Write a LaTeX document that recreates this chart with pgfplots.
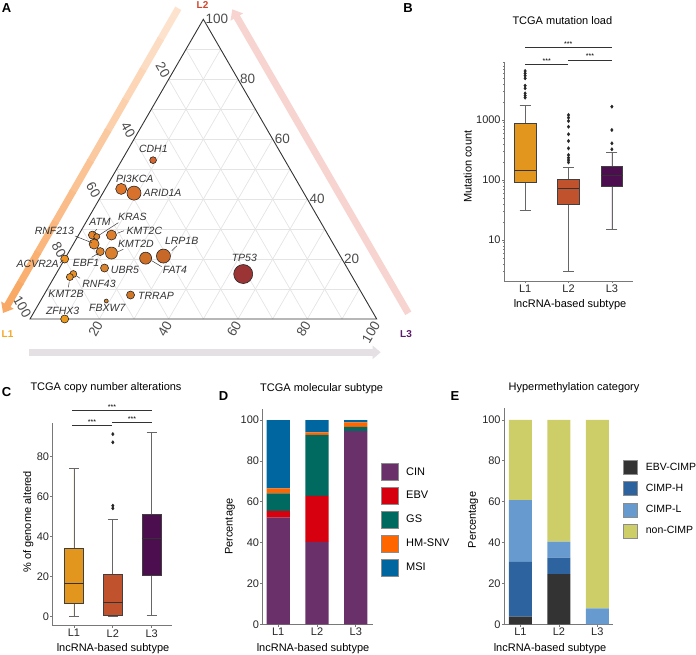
\documentclass[border=0pt]{standalone}
\usepackage{fontspec}
\setmainfont{Liberation Sans}
\usepackage{pgfplots}
\usepackage{pgfplotstable}
\pgfplotsset{compat=1.18}
\usepgfplotslibrary{statistics}
\usetikzlibrary{arrows.meta,calc}

\definecolor{cL1}{RGB}{226,150,30}
\definecolor{cL2}{RGB}{192,82,46}
\definecolor{cL3}{RGB}{76,14,78}
\definecolor{tL1}{RGB}{245,166,35}
\definecolor{tL2}{RGB}{210,69,42}
\definecolor{tL3}{RGB}{91,26,107}
\definecolor{cCIN}{RGB}{106,48,106}
\definecolor{cEBV}{RGB}{215,0,15}
\definecolor{cGS}{RGB}{0,106,96}
\definecolor{cHM}{RGB}{255,102,0}
\definecolor{cMSI}{RGB}{0,102,160}
\definecolor{cEC}{RGB}{51,51,51}
\definecolor{cCH}{RGB}{45,100,160}
\definecolor{cCL}{RGB}{103,155,208}
\definecolor{cNC}{RGB}{206,206,104}
\definecolor{axgray}{RGB}{120,120,120}
\definecolor{gridc}{RGB}{228,228,228}
\definecolor{arA}{RGB}{253,230,212}
\definecolor{arB}{RGB}{249,166,96}
\definecolor{arR}{RGB}{247,212,208}
\definecolor{arG}{RGB}{228,224,228}
% point colours
\definecolor{gCDH1}{RGB}{213,102,45}
\definecolor{gPI3KCA}{RGB}{223,117,41}
\definecolor{gARID1A}{RGB}{216,113,44}
\definecolor{gATM}{RGB}{229,133,40}
\definecolor{gKRAS}{RGB}{227,132,41}
\definecolor{gKMT2C}{RGB}{221,126,44}
\definecolor{gRNF213}{RGB}{227,133,41}
\definecolor{gKMT2D}{RGB}{218,127,45}
\definecolor{gEBF1}{RGB}{223,131,43}
\definecolor{gACVR2A}{RGB}{238,147,36}
\definecolor{gLRP1B}{RGB}{200,104,40}
\definecolor{gFAT4}{RGB}{207,112,40}
\definecolor{gUBR5}{RGB}{219,131,45}
\definecolor{gTP53}{RGB}{155,52,52}
\definecolor{gRNF43}{RGB}{232,144,40}
\definecolor{gKMT2B}{RGB}{233,146,39}
\definecolor{gTRRAP}{RGB}{208,120,40}
\definecolor{gFBXW7}{RGB}{214,133,45}
\definecolor{gZFHX3}{RGB}{236,154,30}

\newcommand{\fs}[1]{\fontsize{#1}{#1}\selectfont}

\pgfplotstableread{
gene L1 L2 L3
CDH1 38 53 9
PI3KCA 52 43.4 4.6
ARID1A 49 42 9
ATM 68 28 4
KRAS 67 27.5 5.5
KMT2C 62.5 28 9.5
RNF213 69 25 6
KMT2D 65.5 22 12.5
EBF1 68.5 22.5 9
ACVR2A 80 20 0
LRP1B 51 21 28
FAT4 56.5 20.3 23.2
UBR5 70 17 13
TP53 31 15 54
RNF43 80 15 5
KMT2B 81.5 14 4.5
TRRAP 67 8 25
FBXW7 75 6 19
ZFHX3 90 0 10
}\genes

\pgfplotsset{
  gg/.style={
    scale only axis, clip=false,
    axis lines*=left,
    axis line style={draw=axgray, line width=0.7pt},
    every tick/.style={draw=axgray, line width=0.7pt},
    every minor tick/.style={draw=axgray, line width=0.5pt},
    tick align=outside,
    major tick length=2.5pt, minor tick length=1.5pt,
    tick label style={font=\fs{11}, text=black!85, inner sep=1pt},
    /pgf/number format/assume math mode=true,
    xtick={1,2,3}, xticklabels={L1,L2,L3},
    xlabel={lncRNA-based subtype},
    label style={font=\fs{11}},
    title style={font=\fs{11}},
  },
  bx/.style={
    boxplot/draw direction=y,
    boxplot/box extend=0.5,
    boxplot/whisker extend=0.25,
    boxplot/every box/.style={draw=black!75, line width=0.6pt},
    boxplot/every whisker/.style={draw=black!60, line width=0.7pt},
    boxplot/every median/.style={draw=black!80, line width=1pt},
  },
  bxp/.style={fill=#1, draw=black!75, mark=diamond*, mark size=1.7pt,
    mark options={fill=black!85, draw=black!85}},
  lgA/.style={legend image code/.code={\draw[##1, draw=black!45, line width=0.6pt] (0pt,-8.5pt) rectangle (17pt,8.5pt);}},
  lgB/.style={legend image code/.code={\draw[##1, draw=black!45, line width=0.6pt] (0pt,-7pt) rectangle (14pt,7pt);}},
}
\tikzset{
  tern/.style={font=\fs{13.5}, text=black!70, inner sep=0pt},
  gl/.style={font=\fs{10.5}\itshape, text=black!80, inner sep=0pt},
  starn/.style={text=white, font=\fs{9}, inner sep=0pt, yshift=-1.5pt},
  sig/.style={draw=black!80, line width=0.7pt},
  sigt/.style={font=\fs{7}, inner sep=0pt, anchor=base},
  pl/.style={font=\fs{13}\bfseries, inner sep=0pt},
  gp/.style={mark=*, draw=black!85, line width=0.6pt, mark size=#1},
}

\begin{document}
\begin{tikzpicture}
\path[use as bounding box] (0pt,0pt) rectangle (696pt,655pt);

% ---------------- A: ternary ----------------
\begin{axis}[at={(30pt,336pt)}, anchor=south west, scale only axis,
  width=346.7pt, height=299.7pt, xmin=0, xmax=100, ymin=0, ymax=100,
  axis lines=none, clip=false, xtick=\empty, ytick=\empty]
  \pgfplotsinvokeforeach{10,20,...,90}{
    \draw[gridc, line width=0.7pt] (axis cs:{#1/2},#1) -- (axis cs:{100-#1/2},#1);
    \draw[gridc, line width=0.7pt] (axis cs:#1,0) -- (axis cs:{(100+#1)/2},{100-#1});
    \draw[gridc, line width=0.7pt] (axis cs:{100-#1},0) -- (axis cs:{(100-#1)/2},{100-#1});
  }
  \draw[black!80, line width=0.9pt] (axis cs:0,0) -- (axis cs:50,100) -- (axis cs:100,0) -- cycle;
  \pgfplotsinvokeforeach{20,40,60,80,100}{
    \node[tern, xshift=2pt, anchor=west] at (axis cs:{100-#1/2},#1) {#1};
    \node[tern, xshift=-2pt, yshift=2.5pt, rotate=-60, anchor=east] at (axis cs:{(100-#1)/2},{100-#1}) {#1};
    \node[tern, yshift=-3.4pt, rotate=60, anchor=east] at (axis cs:#1,0) {#1};
  }
  \addplot[scatter, only marks, scatter src=explicit symbolic,
    scatter/classes={
      CDH1={gp=3.4pt, fill=gCDH1},
      PI3KCA={gp=5.5pt, fill=gPI3KCA},
      ARID1A={gp=7pt, fill=gARID1A},
      ATM={gp=4pt, fill=gATM},
      KRAS={gp=3pt, fill=gKRAS},
      KMT2C={gp=5pt, fill=gKMT2C},
      RNF213={gp=5pt, fill=gRNF213},
      KMT2D={gp=6pt, fill=gKMT2D},
      EBF1={gp=4pt, fill=gEBF1},
      ACVR2A={gp=4pt, fill=gACVR2A},
      LRP1B={gp=7pt, fill=gLRP1B},
      FAT4={gp=6pt, fill=gFAT4},
      UBR5={gp=4pt, fill=gUBR5},
      TP53={gp=9.5pt, fill=gTP53},
      RNF43={gp=3.5pt, fill=gRNF43},
      KMT2B={gp=3.5pt, fill=gKMT2B},
      TRRAP={gp=4pt, fill=gTRRAP},
      FBXW7={gp=2pt, fill=gFBXW7},
      ZFHX3={gp=4pt, fill=gZFHX3}}]
    table[x expr=\thisrow{L3}+0.5*\thisrow{L2}, y=L2, meta=gene] {\genes};
\end{axis}

% ---------------- B: mutation load ----------------
\begin{axis}[gg, bx, at={(504.3pt,374pt)}, anchor=south west,
  width=128.4pt, height=219.3pt,
  xmin=0.52, xmax=3.48, ymode=log, ymin=2.073, ymax=9370,
  ytick={10,100,1000}, yticklabels={10,100,1000},
  minor ytick={3,4,5,6,7,8,9,20,30,40,50,60,70,80,90,200,300,400,500,600,700,800,900,2000,3000,4000,5000,6000,7000,8000,9000},
  title={TCGA mutation load}, ylabel={Mutation count},
  title style={at={(axis description cs:0.452,1.16)}, anchor=center},
  xlabel style={at={(axis description cs:0.512,-0.106)}, anchor=center},
  ylabel style={at={(axis description cs:-0.285,0.521)}, anchor=center}]
  \addplot[bxp=cL1, boxplot prepared={draw position=1, lower whisker=31.6, lower quartile=90, median=143, upper quartile=881, upper whisker=1778}]
    table[row sep=\\, y=v] {v\\6560\\5995\\5470\\4955\\3732\\3377\\2787\\2541\\2354\\};
  \addplot[bxp=cL2, boxplot prepared={draw position=2, lower whisker=3.04, lower quartile=39.8, median=70.8, upper quartile=104, upper whisker=160}]
    table[row sep=\\, y=v] {v\\1212\\1093\\962\\773\\578\\447\\337\\261\\235\\215\\197\\};
  \addplot[bxp=cL3, boxplot prepared={draw position=3, lower whisker=15.1, lower quartile=77.4, median=116.6, upper quartile=167, upper whisker=285}]
    table[row sep=\\, y=v] {v\\1668\\681\\409\\325\\};
\end{axis}

% ---------------- C: copy number ----------------
\begin{axis}[gg, bx, at={(52.7pt,29.3pt)}, anchor=south west,
  width=119pt, height=202.4pt,
  xmin=0.452, xmax=3.515, ymin=-4.5, ymax=96.7,
  ytick={0,20,40,60,80},
  title={TCGA copy number alterations}, ylabel={\% of genome altered},
  title style={at={(axis description cs:0.448,1.145)}, anchor=center},
  xlabel style={at={(axis description cs:0.507,-0.112)}, anchor=center},
  ylabel style={at={(axis description cs:-0.205,0.514)}, anchor=center}]
  \addplot[bxp=cL1, boxplot prepared={draw position=1, lower whisker=0, lower quartile=6.7, median=16.7, upper quartile=34.2, upper whisker=74}]
    coordinates {};
  \addplot[bxp=cL2, boxplot prepared={draw position=2, lower whisker=0, lower quartile=0.5, median=7.2, upper quartile=21, upper whisker=48.8}]
    table[row sep=\\, y=v] {v\\91.3\\87.2\\55.5\\54.2\\};
  \addplot[bxp=cL3, boxplot prepared={draw position=3, lower whisker=0.5, lower quartile=20.8, median=39.2, upper quartile=51.3, upper whisker=92}]
    coordinates {};
\end{axis}

% ---------------- D: molecular subtype ----------------
\begin{axis}[gg, at={(262.7pt,30.7pt)}, anchor=south west,
  width=110.6pt, height=215.3pt,
  ybar stacked, bar width=0.6,
  xmin=0.6, xmax=3.45, ymin=0, ymax=105.4,
  ytick={0,20,40,60,80,100},
  title={TCGA molecular subtype}, ylabel={Percentage},
  title style={at={(axis description cs:0.533,1.068)}, anchor=center},
  xlabel style={at={(axis description cs:0.455,-0.111)}, anchor=center},
  ylabel style={at={(axis description cs:-0.296,0.453)}, anchor=center},
  legend style={draw=none, fill=none, inner sep=0pt, outer sep=0pt,
    at={(axis description cs:1.0696,0.748)}, anchor=north west, font=\fs{11},
    row sep=6.3pt, /tikz/every odd column/.append style={column sep=5.6pt}},
  legend cell align=left]
  \addplot[fill=cCIN, draw=none, lgA] coordinates {(1,52.2) (2,40.4) (3,94.6)};
  \addplot[fill=cEBV, draw=none, lgA] coordinates {(1,3.3) (2,22.5) (3,0)};
  \addplot[fill=cGS, draw=none, lgA] coordinates {(1,8.6) (2,29.8) (3,2.1)};
  \addplot[fill=cHM, draw=none, lgA] coordinates {(1,2.5) (2,1.3) (3,2.2)};
  \addplot[fill=cMSI, draw=none, lgA] coordinates {(1,33.4) (2,6.0) (3,1.1)};
  \legend{CIN,EBV,GS,HM-SNV,MSI}
  \node[starn] at (axis cs:1,82.4) {*};
  \node[starn] at (axis cs:2,82) {*};
  \node[starn] at (axis cs:2,50.5) {*};
  \node[starn] at (axis cs:3,51) {*};
\end{axis}

% ---------------- E: hypermethylation ----------------
\begin{axis}[gg, at={(504.3pt,30.7pt)}, anchor=south west,
  width=108.4pt, height=216pt,
  ybar stacked, bar width=0.6,
  xmin=0.58, xmax=3.4, ymin=0, ymax=105.7,
  ytick={0,20,40,60,80,100},
  title={Hypermethylation category}, ylabel={Percentage},
  title style={at={(axis description cs:0.643,1.066)}, anchor=center},
  xlabel style={at={(axis description cs:0.422,-0.111)}, anchor=center},
  ylabel style={at={(axis description cs:-0.286,0.483)}, anchor=center},
  legend style={draw=none, fill=none, inner sep=0pt, outer sep=0pt,
    at={(axis description cs:1.092,0.759)}, anchor=north west, font=\fs{10.5},
    row sep=6.5pt, /tikz/every odd column/.append style={column sep=6.6pt}},
  legend cell align=left]
  \addplot[fill=cEC, draw=none, lgB] coordinates {(1,3.7) (2,24.6) (3,0)};
  \addplot[fill=cCH, draw=none, lgB] coordinates {(1,26.9) (2,8) (3,0)};
  \addplot[fill=cCL, draw=none, lgB] coordinates {(1,30.2) (2,7.8) (3,7.8)};
  \addplot[fill=cNC, draw=none, lgB] coordinates {(1,39.2) (2,59.6) (3,92.2)};
  \legend{EBV-CIMP,CIMP-H,CIMP-L,non-CIMP}
  \node[starn] at (axis cs:1,40.9) {*};
  \node[starn] at (axis cs:1,14.7) {*};
  \node[starn] at (axis cs:2,11) {*};
  \node[starn] at (axis cs:3,53) {*};
\end{axis}

% ---------------- annotations in pixel coordinates ----------------
\begin{scope}[x=1pt, y=-1pt, shift={(0pt,655pt)}]
  \foreach \i in {0,...,8}{
    \pgfmathsetmacro\ta{\i/10}
    \pgfmathsetmacro\tb{(\i+1)/10+0.004}
    \pgfmathsetmacro\pc{(\i+0.5)*10}
    \colorlet{segc}{arB!\pc!arA}
    \draw[segc, line width=7pt] ($(178.3,8.3)!\ta!(3,313)$) -- ($(178.3,8.3)!\tb!(3,313)$);
  }
  \draw[arB!95!arA, line width=7pt, -{Triangle[width=14pt,length=9pt]}] ($(178.3,8.3)!0.9!(3,313)$) -- (3,313);
  \draw[arR, line width=7pt, -{Triangle[width=14pt,length=9pt]}] (408.3,313.3) -- (232.3,9.3);
  \draw[arG, line width=7pt, -{Triangle[width=13pt,length=8pt]}] (29,352.3) -- (380.7,352.3);

  \node[font=\fs{10}\bfseries, text=tL2, inner sep=0pt] at (202.5,5) {L2};
  \node[font=\fs{10}\bfseries, text=tL1, inner sep=0pt] at (7.5,334) {L1};
  \node[font=\fs{10}\bfseries, text=tL3, inner sep=0pt] at (406,334) {L3};

  \node[gl] at (153.3,149.3) {CDH1};
  \node[gl] at (134.7,179) {PI3KCA};
  \node[gl, anchor=west] at (143.3,193.3) {ARID1A};
  \node[gl] at (100,222.3) {ATM};
  \node[gl] at (132.3,217.3) {KRAS};
  \node[gl] at (144.3,230.7) {KMT2C};
  \node[gl] at (54.3,230.7) {RNF213};
  \node[gl] at (136,244) {KMT2D};
  \node[gl] at (181.7,240.7) {LRP1B};
  \node[gl] at (86,263.3) {EBF1};
  \node[gl] at (37.7,264) {ACVR2A};
  \node[gl] at (125,270.3) {UBR5};
  \node[gl] at (175,270) {FAT4};
  \node[gl] at (244.3,257.7) {TP53};
  \node[gl] at (99,284) {RNF43};
  \node[gl] at (66,294.3) {KMT2B};
  \node[gl] at (156,296) {TRRAP};
  \node[gl] at (107.3,308.3) {FBXW7};
  \node[gl] at (62.7,310.7) {ZFHX3};
  \draw[black!75, line width=0.5pt] (96.7,229.3) -- (93.3,233.3);
  \draw[black!75, line width=0.5pt] (118.3,222.7) -- (99.3,235);
  \draw[black!75, line width=0.5pt] (124,230.7) -- (117.3,233.3);
  \draw[black!75, line width=0.5pt] (75,236) -- (91.7,242.7);
  \draw[black!75, line width=0.5pt] (123.3,249.3) -- (117.3,252);
  \draw[black!75, line width=0.5pt] (176.7,246) -- (171.7,250.7);
  \draw[black!75, line width=0.5pt] (91.7,257.3) -- (98.3,253.3);
  \draw[black!75, line width=0.5pt] (60,262.7) -- (63.3,260);
  \draw[black!75, line width=0.5pt] (161.7,266.7) -- (151.7,260.7);
  \draw[black!75, line width=0.5pt] (80,278.3) -- (76.7,276);
  \draw[black!75, line width=0.5pt] (68.3,287.3) -- (69.3,281.7);

  \draw[sig] (525,47.3) -- (611.7,47.3);
  \node[sigt] at (568.3,46.3) {***};
  \draw[sig] (525,64.3) -- (568.3,64.3);
  \node[sigt] at (546.7,63.3) {***};
  \draw[sig] (568.3,60) -- (611.7,60);
  \node[sigt] at (590,59) {***};
  \draw[sig] (72,410.7) -- (152,410.7);
  \node[sigt] at (112,409.7) {***};
  \draw[sig] (72,425.7) -- (112,425.7);
  \node[sigt] at (92,424.7) {***};
  \draw[sig] (112,422.3) -- (152,422.3);
  \node[sigt] at (132,421.3) {***};

  \node[pl] at (6.5,8) {A};
  \node[pl] at (408,8) {B};
  \node[pl] at (6.5,392) {C};
  \node[pl] at (223.5,396) {D};
  \node[pl] at (455,396) {E};
\end{scope}
\end{tikzpicture}
\end{document}
